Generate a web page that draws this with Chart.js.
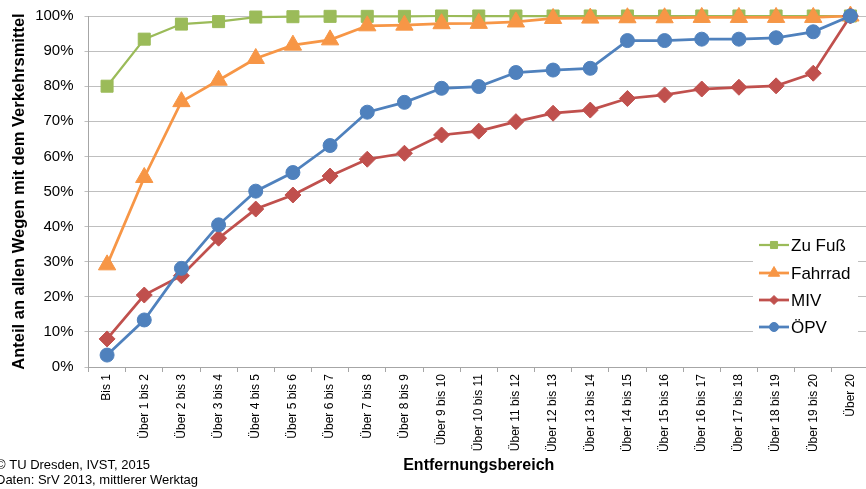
<!DOCTYPE html>
<html>
<head>
<meta charset="utf-8">
<script src="https://cdn.jsdelivr.net/npm/chart.js@4/dist/chart.umd.min.js"></script>
<style>
  html, body { margin: 0; padding: 0; background: #fff; overflow: hidden; }
  #wrap { width: 880px; height: 489px; position: relative; }
</style>
</head>
<body>
<div id="wrap"><canvas id="c" width="880" height="489"></canvas></div>
<script>
// Distance bands (km)
const categories = ['Bis 1', 'Über 1 bis 2', 'Über 2 bis 3', 'Über 3 bis 4', 'Über 4 bis 5', 'Über 5 bis 6',
  'Über 6 bis 7', 'Über 7 bis 8', 'Über 8 bis 9', 'Über 9 bis 10', 'Über 10 bis 11', 'Über 11 bis 12',
  'Über 12 bis 13', 'Über 13 bis 14', 'Über 14 bis 15', 'Über 15 bis 16', 'Über 16 bis 17', 'Über 17 bis 18',
  'Über 18 bis 19', 'Über 19 bis 20', 'Über 20'];

// Cumulative share of trips per mode (%)
const zuFuss  = [80.0, 93.4, 97.7, 98.4, 99.7, 99.8, 99.9, 99.9, 99.9, 100, 100, 100, 100, 100, 100, 100, 100, 100, 100, 100, 100];
const fahrrad = [29.1, 54.0, 75.6, 81.7, 87.9, 91.7, 93.2, 97.2, 97.4, 97.8, 97.9, 98.3, 99.3, 99.4, 99.5, 99.5, 99.6, 99.6, 99.6, 99.6, 100];
const miv     = [8.0, 20.5, 26.0, 36.7, 45.0, 49.0, 54.4, 59.2, 60.9, 66.1, 67.2, 69.9, 72.3, 73.2, 76.5, 77.5, 79.2, 79.7, 80.1, 83.7, 100];
const oepv    = [3.4, 13.4, 28.1, 40.5, 50.1, 55.4, 63.1, 72.6, 75.4, 79.4, 79.9, 83.9, 84.6, 85.1, 93.0, 93.0, 93.4, 93.4, 93.8, 95.5, 100];

const yTicks = [0, 10, 20, 30, 40, 50, 60, 70, 80, 90, 100];

const seriesNames = ['Zu Fuß', 'Fahrrad', 'MIV', 'ÖPV'];
const sourceLines = ['© TU Dresden, IVST, 2015', 'Daten: SrV 2013, mittlerer Werktag'];

const FONT = "'Liberation Sans', Arial, sans-serif";
const COLORS = ['#9BBB59', '#F79646', '#C0504D', '#4F81BD'];
const STYLES = ['rect', 'triangle', 'rectRot', 'circle'];
const RADII = [8.5, 10, 8, 7];
const LEGEND_RADII = [5, 6.5, 4.5, 4.5];
const WIDTHS = [2.25, 2.75, 2.75, 2.75];

function series(i, values) {
  return {
    label: seriesNames[i],
    data: values,
    borderColor: COLORS[i],
    backgroundColor: COLORS[i],
    pointBackgroundColor: COLORS[i],
    pointBorderColor: COLORS[i],
    pointBorderWidth: 1,
    pointStyle: STYLES[i],
    pointRadius: RADII[i],
    pointHoverRadius: RADII[i],
    borderWidth: WIDTHS[i],
    tension: 0,
    clip: false,
    order: 4 - i
  };
}

// Legend box drawn inside the plot area, plus source note at bottom left
const overlay = {
  id: 'overlay',
  afterDatasetsDraw(chart) {
    const ctx = chart.ctx;
    ctx.save();
    ctx.fillStyle = '#fff';
    ctx.fillRect(753, 232, 105, 110);
    const rows = [245, 273, 300, 327];
    ctx.font = '17px ' + FONT;
    ctx.textBaseline = 'middle';
    ctx.textAlign = 'left';
    for (let i = 0; i < 4; i++) {
      const y = rows[i];
      ctx.strokeStyle = COLORS[i];
      ctx.lineWidth = WIDTHS[i];
      ctx.beginPath();
      ctx.moveTo(759, y);
      ctx.lineTo(789, y);
      ctx.stroke();
      ctx.fillStyle = COLORS[i];
      ctx.strokeStyle = COLORS[i];
      ctx.lineWidth = 1;
      Chart.helpers.drawPoint(ctx, { pointStyle: STYLES[i], radius: LEGEND_RADII[i], borderWidth: 1, rotation: 0 }, 774, y);
      ctx.fillStyle = '#000';
      ctx.fillText(seriesNames[i], 791, y + 1);
    }
    ctx.font = '13px ' + FONT;
    ctx.fillStyle = '#000';
    ctx.fillText(sourceLines[0], -4, 465);
    ctx.fillText(sourceLines[1], -4, 480);
    ctx.restore();
  }
};

new Chart(document.getElementById('c'), {
  type: 'line',
  data: {
    labels: categories,
    datasets: [series(0, zuFuss), series(1, fahrrad), series(2, miv), series(3, oepv)]
  },
  options: {
    responsive: false,
    animation: false,
    layout: { padding: { left: 0, right: 8, top: 0, bottom: 0 } },
    plugins: {
      legend: { display: false },
      tooltip: { enabled: false }
    },
    scales: {
      x: {
        type: 'category',
        offset: true,
        grid: { display: true, drawOnChartArea: false, drawTicks: true, tickLength: 5, color: '#A6A6A6', offset: true },
        border: { display: true, color: '#A6A6A6', width: 1 },
        ticks: {
          autoSkip: false, minRotation: 90, maxRotation: 90, padding: 2,
          color: '#000', font: { family: FONT, size: 12 }
        },
        title: {
          display: true, text: 'Entfernungsbereich', color: '#000',
          font: { family: FONT, size: 16, weight: 'bold' },
          padding: { top: 4, bottom: 14 }
        },
        afterFit(scale) { scale.height = 122; }
      },
      y: {
        min: 0, max: 100,
        afterBuildTicks(scale) { scale.ticks = yTicks.map(v => ({ value: v })); },
        grid: { color: '#BFBFBF', lineWidth: 1, drawTicks: true, tickLength: 4 },
        border: { display: true, color: '#A6A6A6', width: 1 },
        ticks: {
          padding: 11, color: '#000', font: { family: FONT, size: 15 },
          callback: v => v + '%'
        },
        title: {
          display: true, text: 'Anteil an allen Wegen mit dem Verkehrsmittel', color: '#000',
          font: { family: FONT, size: 16.5, weight: 'bold' },
          padding: { top: 10, bottom: 0 }
        },
        afterFit(scale) { scale.width = 88.5; scale.paddingTop = 16; scale.paddingBottom = 0; }
      }
    }
  },
  plugins: [overlay]
});
</script>
</body>
</html>
